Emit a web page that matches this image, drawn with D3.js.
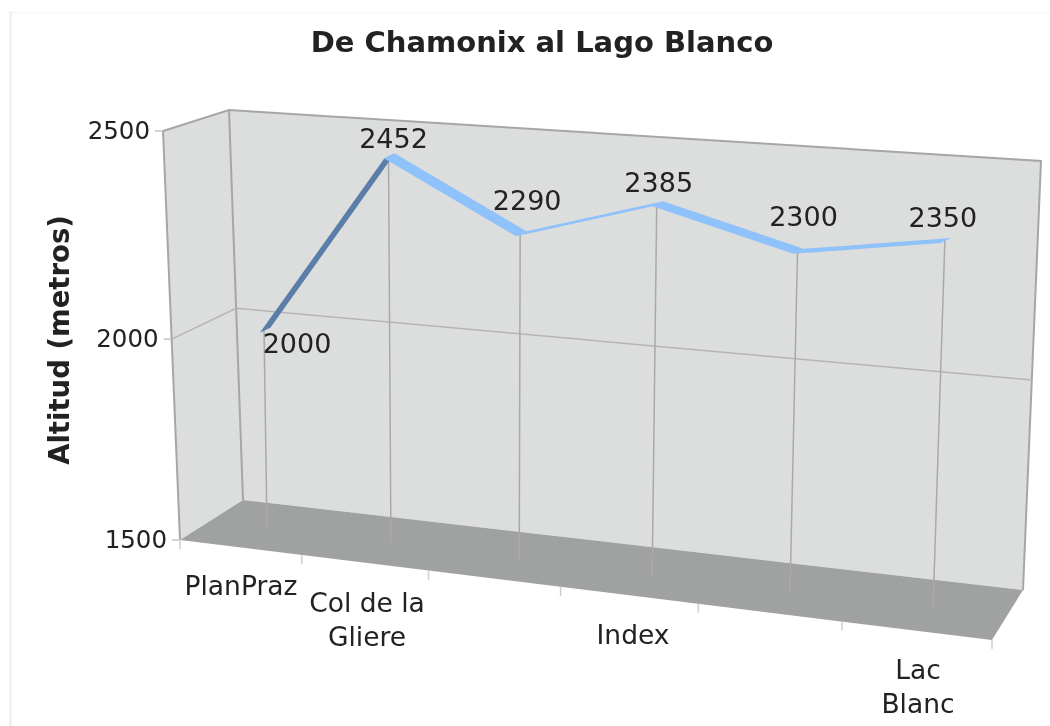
<!DOCTYPE html>
<html>
<head>
<meta charset="utf-8">
<script src="https://cdn.jsdelivr.net/npm/d3@7"></script>
<style>
    html, body { margin: 0; padding: 0; background: #ffffff; }
    text { font-family: "DejaVu Sans", sans-serif; fill: #222222; }
</style>
</head>
<body>
<div id="chart"></div>
<script>
// Chart data, the third and fifth stops have no readable label in the picture
const categories = [['PlanPraz'], ['Col de la', 'Gliere'], [], ['Index'], [], ['Lac', 'Blanc']];
const altitudes = [2000, 2452, 2290, 2385, 2300, 2350];
const valueTicks = [1500, 2000, 2500];

const width = 1050;
const height = 726;

// Function to build a projective map from the unit square to a quad
// corners order: (0,0), (1,0), (1,1), (0,1)
function quadMap(q) {
    const [x0, y0] = q[0], [x1, y1] = q[1], [x2, y2] = q[2], [x3, y3] = q[3];
    const dx1 = x1 - x2, dx2 = x3 - x2, sx = x0 - x1 + x2 - x3;
    const dy1 = y1 - y2, dy2 = y3 - y2, sy = y0 - y1 + y2 - y3;
    const det = dx1 * dy2 - dx2 * dy1;
    const g = (sx * dy2 - dx2 * sy) / det;
    const h = (dx1 * sy - sx * dy1) / det;
    const a = x1 - x0 + g * x1, b = x3 - x0 + h * x3;
    const d = y1 - y0 + g * y1, e = y3 - y0 + h * y3;
    return (u, v) => {
        const w = g * u + h * v + 1;
        return [(a * u + b * v + x0) / w, (d * u + e * v + y0) / w];
    };
}

// Corners of the 3D box as seen in the picture
const backBottomLeft = [243, 500], backBottomRight = [1023, 590];
const backTopLeft = [229, 110], backTopRight = [1041, 161];
const frontBottomLeft = [180, 540], frontBottomRight = [992, 640];
const frontTopLeft = [163, 131];

const backWall = quadMap([backBottomLeft, backBottomRight, backTopRight, backTopLeft]);
const leftWall = quadMap([frontBottomLeft, backBottomLeft, backTopLeft, frontTopLeft]);
const floorMap = quadMap([frontBottomLeft, frontBottomRight, backBottomRight, backBottomLeft]);
// plane that the series sits on, halfway into the box
const seriesPlane = quadMap([[267, 528], [933, 610], [947, 174], [261, 128]]);

const stops = d3.range(categories.length);
const xPoint = d3.scalePoint().domain(stops).range([0, 1]);
const xBand = d3.scaleBand().domain(stops).range([0, 1]);
const yScale = d3.scaleLinear().domain([1500, 2500]).range([0, 1]);

const svg = d3.select('#chart').append('svg')
    .attr('width', width)
    .attr('height', height)
    .style('display', 'block');

const soft = svg.append('defs').append('filter').attr('id', 'soft');
soft.append('feGaussianBlur').attr('stdDeviation', 0.6);

// Faint edge of the original slide
svg.append('line')
    .attr('x1', 10.5).attr('y1', 11).attr('x2', 10.5).attr('y2', height)
    .attr('stroke', '#f1f1f1').attr('stroke-width', 3);
svg.append('line')
    .attr('x1', 12).attr('y1', 12.5).attr('x2', width).attr('y2', 12.5)
    .attr('stroke', '#fafafa').attr('stroke-width', 3);

const root = svg.append('g').attr('filter', 'url(#soft)');
const line = d3.line();
const polyPath = pts => line(pts) + 'Z';

// Walls and floor
root.append('path')
    .attr('d', polyPath([backBottomLeft, backBottomRight, backTopRight, backTopLeft]))
    .attr('fill', '#dcdddd');
root.append('path')
    .attr('d', polyPath([frontBottomLeft, backBottomLeft, backTopLeft, frontTopLeft]))
    .attr('fill', '#dcdddd');
root.append('path')
    .attr('d', polyPath([frontBottomLeft, frontBottomRight, backBottomRight, backBottomLeft]))
    .attr('fill', '#a0a1a1');

// Wall outlines
root.append('path')
    .attr('d', line([frontBottomLeft, frontTopLeft, backTopLeft, backTopRight, backBottomRight]))
    .attr('fill', 'none')
    .attr('stroke', '#a6a6a6')
    .attr('stroke-width', 2);
root.append('path')
    .attr('d', line([backTopLeft, backBottomLeft]))
    .attr('fill', 'none')
    .attr('stroke', '#a6a6a6')
    .attr('stroke-width', 2);

// Horizontal gridlines and value ticks
valueTicks.slice(1, -1).forEach(t => {
    const v = yScale(t);
    root.append('path')
        .attr('d', line([leftWall(0, v), leftWall(1, v), backWall(1, v)]))
        .attr('fill', 'none')
        .attr('stroke', '#b5b5b5')
        .attr('stroke-width', 1.5);
});
valueTicks.forEach(t => {
    const p = leftWall(0, yScale(t));
    root.append('line')
        .attr('x1', p[0] - 8).attr('y1', p[1])
        .attr('x2', p[0]).attr('y2', p[1])
        .attr('stroke', '#c4c4c4')
        .attr('stroke-width', 1.5);
    root.append('text')
        .attr('x', p[0] - 13)
        .attr('y', p[1] + 1)
        .attr('text-anchor', 'end')
        .attr('dominant-baseline', 'middle')
        .style('font-size', '24.5px')
        .text(t);
});

// Ticks under the front edge of the floor
d3.range(categories.length + 1).forEach(i => {
    const p = floorMap(i * xBand.step(), 0);
    root.append('line')
        .attr('x1', p[0]).attr('y1', p[1])
        .attr('x2', p[0]).attr('y2', p[1] + 9)
        .attr('stroke', '#cfcfcf')
        .attr('stroke-width', 1.5);
});

// Drop lines from each point to the floor
stops.forEach(i => {
    const base = seriesPlane(xPoint(i), 0);
    const top = seriesPlane(xPoint(i), yScale(altitudes[i]));
    root.append('line')
        .attr('x1', base[0]).attr('y1', base[1])
        .attr('x2', top[0]).attr('y2', top[1])
        .attr('stroke', '#a9a9a9')
        .attr('stroke-width', 1.5);
});

// Ribbon line: each segment has a small depth, so its apparent width follows the slope
const ribbonDepth = [10.5, -5];
const segmentColors = ['#5a7ea9', '#8fc1fb', '#8fc1fb', '#8fc1fb', '#8fc1fb'];
const points = stops.map(i => seriesPlane(xPoint(i), yScale(altitudes[i])));
root.append('g').selectAll('path')
    .data(d3.pairs(points))
    .enter().append('path')
    .attr('d', d => polyPath([
        [d[0][0] - 0.4 * ribbonDepth[0], d[0][1] - 0.4 * ribbonDepth[1]],
        [d[1][0] - 0.4 * ribbonDepth[0], d[1][1] - 0.4 * ribbonDepth[1]],
        [d[1][0] + 0.6 * ribbonDepth[0], d[1][1] + 0.6 * ribbonDepth[1]],
        [d[0][0] + 0.6 * ribbonDepth[0], d[0][1] + 0.6 * ribbonDepth[1]]
    ]))
    .attr('fill', (d, i) => segmentColors[i]);

// Value labels
const labelOffsets = [[33, 15], [5, -16], [7, -32], [2, -20], [6, -33], [-2, -22]];
root.append('g').selectAll('text')
    .data(altitudes)
    .enter().append('text')
    .attr('x', (d, i) => points[i][0] + labelOffsets[i][0])
    .attr('y', (d, i) => points[i][1] + labelOffsets[i][1])
    .attr('text-anchor', 'middle')
    .attr('dominant-baseline', 'middle')
    .style('font-size', '27px')
    .text(d => d);

// Category labels, only the ones that fit are shown
const labelCenters = [[241, 586], [367, 603], null, [633, 635], null, [918, 670]];
stops.filter(i => categories[i].length).forEach(i => {
    const t = root.append('text')
        .attr('text-anchor', 'middle')
        .style('font-size', '26.5px');
    categories[i].forEach((s, j) => {
        t.append('tspan')
            .attr('x', labelCenters[i][0])
            .attr('y', labelCenters[i][1] + j * 34 + 9)
            .text(s);
    });
});

// Titles
root.append('text')
    .attr('x', 542)
    .attr('y', 52)
    .attr('text-anchor', 'middle')
    .style('font-size', '29px')
    .style('font-weight', 'bold')
    .text('De Chamonix al Lago Blanco');

root.append('text')
    .attr('transform', 'translate(69, 340) rotate(-90)')
    .attr('text-anchor', 'middle')
    .style('font-size', '27.5px')
    .style('font-weight', 'bold')
    .text('Altitud (metros)');
</script>
</body>
</html>
